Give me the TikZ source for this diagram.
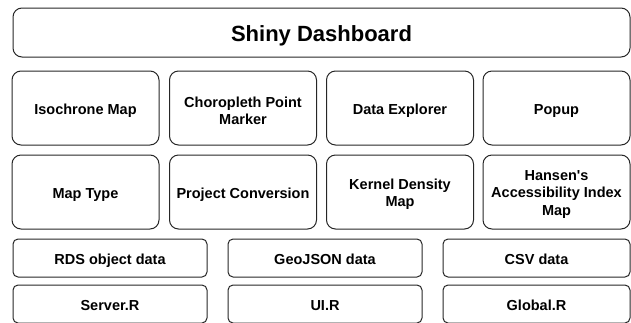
\documentclass[tikz,border=0pt]{standalone}
\usepackage{fontspec}
\setmainfont{Liberation Sans}
\begin{document}
\begin{tikzpicture}[x=1pt,y=-1pt,
  box/.style={draw=black!85, line width=1pt, rounded corners=9pt, inner sep=0pt},
  bigbox/.style={box, minimum width=147pt, minimum height=74pt},
  smallbox/.style={box, rounded corners=5pt, minimum height=38pt},
  txt/.style={inner sep=0pt, align=center, text=black,
    font=\bfseries\fontsize{14.5}{17.3}\selectfont},
  one/.style={txt, text height=10.6pt, text depth=3.05pt},
  titletxt/.style={txt, font=\bfseries\fontsize{22}{26}\selectfont}]
\useasboundingbox (0,0) rectangle (631,322);
\clip (0,0) rectangle (631,322);
\node[box, minimum width=617pt, minimum height=49pt] (title) at (321.5,32.5) {};
\node[titletxt] (titleT) at ([yshift=-3pt]title.center) {Shiny Dashboard};
% row 1
\node[bigbox] (iso) at (85.5,108) {};
\node[bigbox] (chor) at (243,108) {};
\node[bigbox] (dexp) at (400,108) {};
\node[bigbox] (pop) at (556.5,108) {};
% row 2
\node[bigbox] (mtype) at (85.5,192) {};
\node[bigbox] (proj) at (243,192) {};
\node[bigbox] (kde) at (400,192) {};
\node[bigbox] (hansen) at (556.5,192) {};
% row 3
\node[smallbox, minimum width=194pt] (rds) at (110,258) {};
\node[smallbox, minimum width=194pt] (geo) at (325,258) {};
\node[smallbox, minimum width=187pt] (csv) at (536.5,258) {};
% row 4
\node[smallbox, minimum width=194pt] (server) at (110,304) {};
\node[smallbox, minimum width=194pt] (ui) at (325,304) {};
\node[smallbox, minimum width=187pt] (global) at (536.5,304) {};
% labels
\node[one] (isoT) at ([yshift=-2.5pt]iso.center) {Isochrone Map};
\node[txt] (chorT) at ([yshift=-2.5pt]chor.center) {Choropleth Point\\Marker};
\node[one] (dexpT) at ([yshift=-2.5pt]dexp.center) {Data Explorer};
\node[one] (popT) at ([yshift=-2.5pt]pop.center) {Popup};
\node[one] (mtypeT) at ([yshift=-2.5pt]mtype.center) {Map Type};
\node[one] (projT) at ([yshift=-2.5pt]proj.center) {Project Conversion};
\node[txt] (kdeT) at ([yshift=-2.5pt]kde.center) {Kernel Density\\Map};
\node[txt] (hansenT) at ([yshift=-2.5pt]hansen.center) {Hansen\textquotesingle s\\Accessibility Index\\Map};
\node[one] (rdsT) at ([yshift=-2.5pt]rds.center) {RDS object data};
\node[one] (geoT) at ([yshift=-2.5pt]geo.center) {GeoJSON data};
\node[one] (csvT) at ([yshift=-2.5pt]csv.center) {CSV data};
\node[one] (serverT) at ([yshift=-2.5pt]server.center) {Server.R};
\node[one] (uiT) at ([yshift=-2.5pt]ui.center) {UI.R};
\node[one] (globalT) at ([yshift=-2.5pt]global.center) {Global.R};
\end{tikzpicture}
\end{document}
